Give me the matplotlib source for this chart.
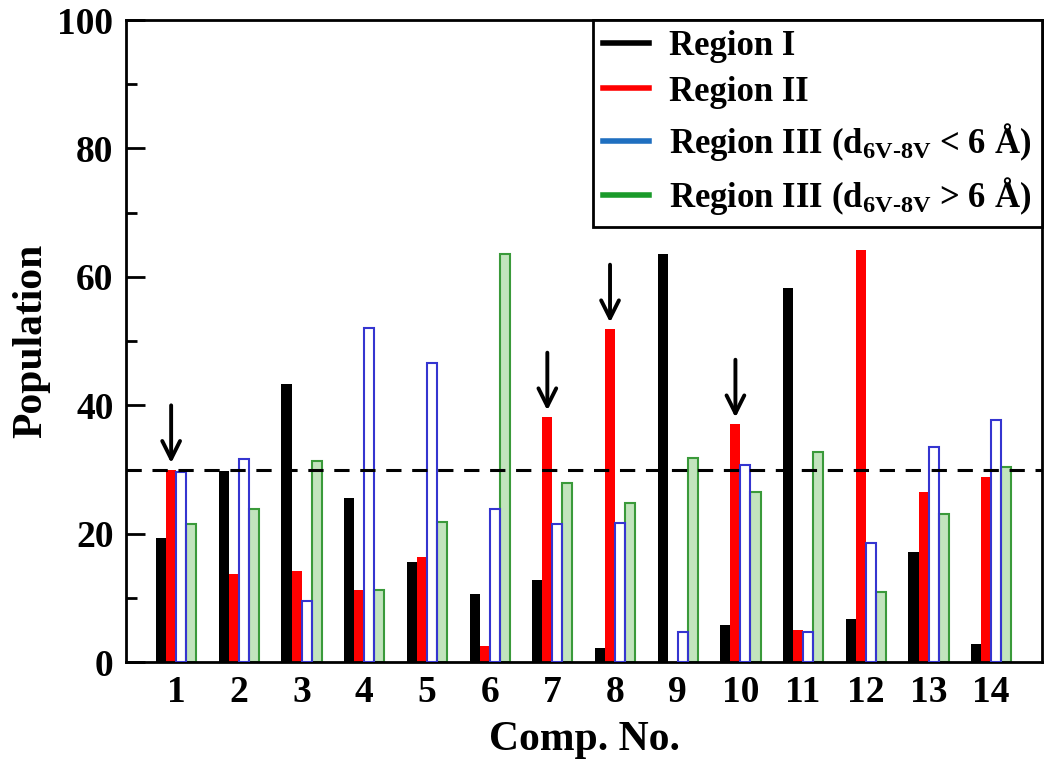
import numpy as np
import matplotlib
matplotlib.use('Agg')
import matplotlib.pyplot as plt
from matplotlib.ticker import MultipleLocator
from matplotlib.lines import Line2D

plt.rcParams['font.family'] = ['Liberation Serif', 'DejaVu Serif']
plt.rcParams['font.weight'] = 'bold'
plt.rcParams['mathtext.fontset'] = 'custom'
plt.rcParams['mathtext.rm'] = 'Liberation Serif:bold'
plt.rcParams['mathtext.it'] = 'Liberation Serif:bold'
plt.rcParams['mathtext.bf'] = 'Liberation Serif:bold'

# data
compounds = list(range(1, 15))
region1 = [19.3, 29.8, 43.3, 25.5, 15.6, 10.6, 12.8, 2.2, 63.6, 5.8, 58.3, 6.7, 17.1, 2.9]
region2 = [30.0, 13.7, 14.2, 11.2, 16.4, 2.6, 38.2, 51.9, 0.0, 37.1, 5.0, 64.2, 26.5, 28.8]
region3_close = [29.6, 31.6, 9.6, 52.0, 46.6, 23.8, 21.5, 21.6, 4.7, 30.7, 4.7, 18.5, 33.5, 37.7]
region3_far = [21.5, 23.8, 31.3, 11.3, 21.8, 63.6, 27.9, 24.8, 31.8, 26.5, 32.7, 10.9, 23.0, 30.4]
reference_level = 30
arrow_comps = [1, 7, 8, 10]

legend_labels = ['Region I', 'Region II',
                 r'Region III (d$_{\mathrm{6V}\text{-}\mathrm{8V}}$ < 6 Å)',
                 r'Region III (d$_{\mathrm{6V}\text{-}\mathrm{8V}}$ > 6 Å)']

fig = plt.figure(figsize=(10.5, 7.7), dpi=100)
ax = fig.add_axes([0.12, 0.14, 0.8724, 0.834])

x = np.array(compounds)
w = 0.16
ax.bar(x - 1.5*w, region1, w, color='black', zorder=2)
ax.bar(x - 0.5*w, region2, w, color='#ff0000', zorder=2)
ax.bar(x + 0.5*w, region3_close, w, facecolor='none', edgecolor='#3535d0', linewidth=1.5, zorder=3)
ax.bar(x + 1.5*w, region3_far, w, facecolor='#c2e4bd', edgecolor='#3a9a3a', linewidth=1.5, zorder=2)

ax.axhline(reference_level, color='black', linestyle=(0, (5, 3.5)), linewidth=2.2, zorder=4)

for c in arrow_comps:
    v = region2[c - 1]
    ax.annotate('', xy=(c - 0.5*w, v + 1), xytext=(c - 0.5*w, v + 10),
                arrowprops=dict(arrowstyle='->', color='black', lw=2.8,
                                mutation_scale=32, shrinkA=0, shrinkB=0))

ax.set_xlim(0.2, 14.81)
ax.set_ylim(0, 100)
ax.set_xticks(compounds)
ax.yaxis.set_major_locator(MultipleLocator(20))
ax.yaxis.set_minor_locator(MultipleLocator(10))
ax.tick_params(axis='y', which='major', direction='in', length=14, width=2, labelsize=27, pad=9)
ax.tick_params(axis='y', which='minor', direction='in', length=8, width=2)
ax.tick_params(axis='x', length=0, labelsize=27, pad=9)
for s in ax.spines.values():
    s.set_linewidth(2)

ax.set_xlabel('Comp. No.', fontsize=30, fontweight='bold', labelpad=8)
ax.set_ylabel('Population', fontsize=30, fontweight='bold', labelpad=5)

handles = [Line2D([], [], color=c, lw=4) for c in ['black', '#ff0000', '#1f6fc0', '#1a9a2a']]
leg = ax.legend(handles, legend_labels, loc='upper right', borderaxespad=0,
                fancybox=False, framealpha=1, edgecolor='black',
                prop={'size': 25, 'weight': 'bold'}, handlelength=1.3,
                handletextpad=0.6, labelspacing=0.35, borderpad=0.3)
leg.get_frame().set_linewidth(2)

fig.savefig('out.png', dpi=100)
